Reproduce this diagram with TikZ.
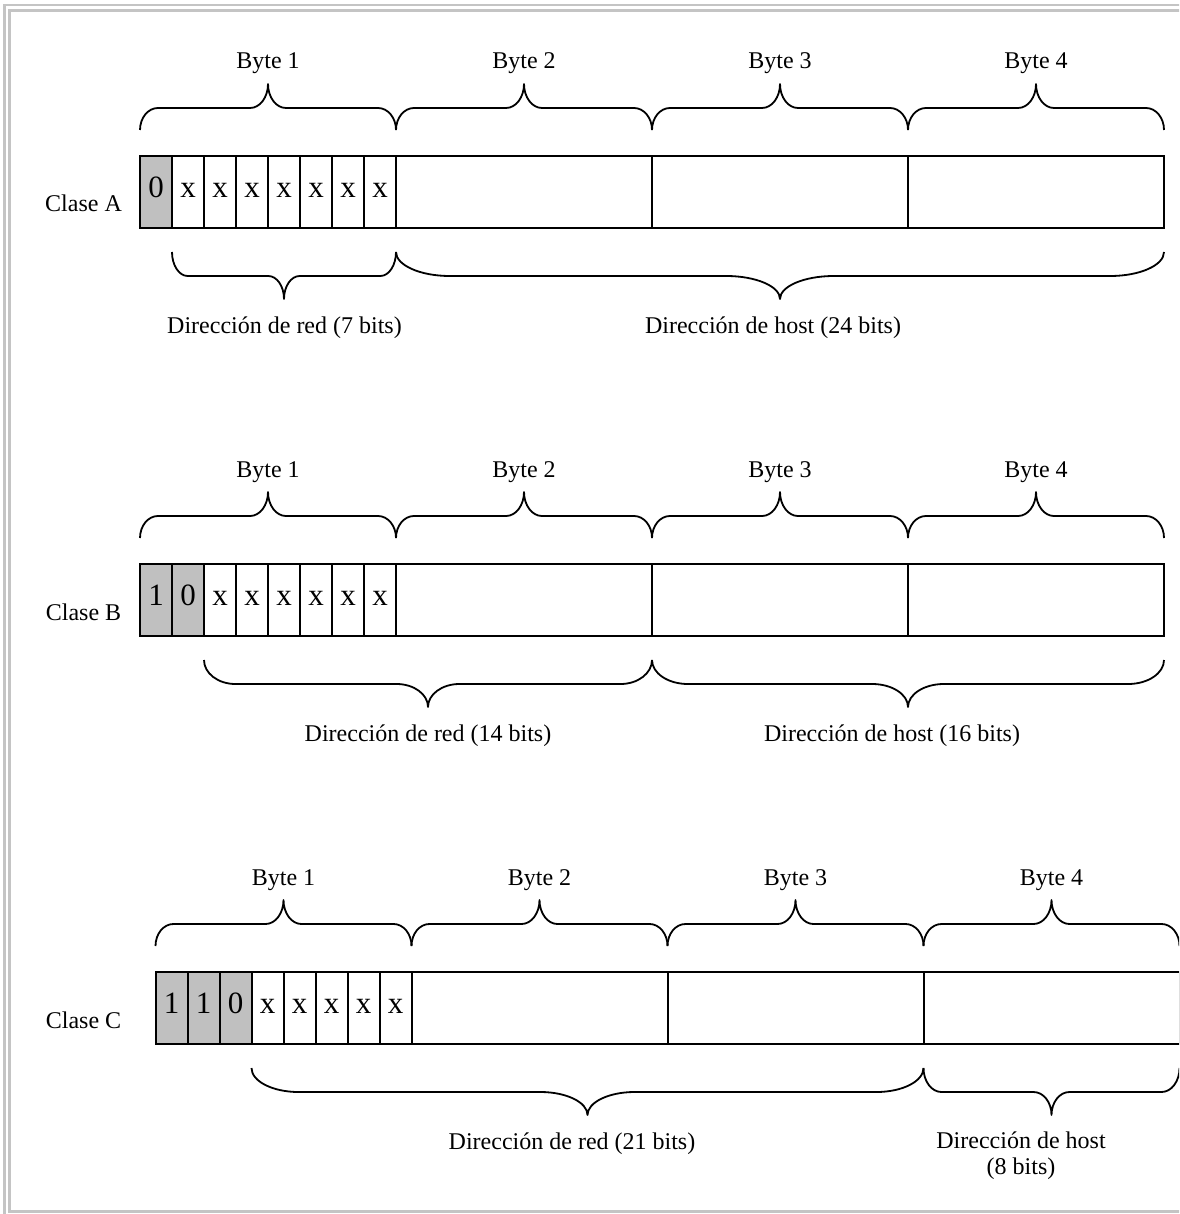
\documentclass[tikz,border=0pt]{standalone}
\usepackage{fontspec}
\setmainfont{Liberation Serif}
\definecolor{fixgray}{HTML}{C0C0C0}
\definecolor{framegray}{HTML}{C4C4C4}
\tikzset{
  lbl/.style={font=\fontsize{24}{28}\selectfont, inner sep=0pt, anchor=base},
  bit/.style={draw, line width=2pt, minimum width=32pt, minimum height=72pt,
    inner sep=0pt, outer sep=0pt, font=\fontsize{31}{31}\selectfont,
    text height=21pt, text depth=10pt},
  bytebox/.style={draw, line width=2pt, minimum width=256pt, minimum height=72pt,
    inner sep=0pt, outer sep=0pt},
  brace/.style={line width=1.8pt, line join=round},
  frame/.style={draw=framegray, line width=2.5pt}
}
\newcommand\bitrow[4]{%
  \foreach \t/\f [count=\i from 0] in {#4} {
    \ifnum\f=1 \def\bitfill{fixgray}\else\def\bitfill{white}\fi
    \node[bit, fill=\bitfill] (#1b\i) at ({#3+16+32*\i}, {#2+36}) {\t};
  }
  \foreach \j in {1,2,3} {
    \node[bytebox] (#1B\j) at ({#3+128+256*\j}, {#2+36}) {};
  }
}
\newcommand\curly[5]{%
  \pgfmathsetmacro\bkl{#1}\pgfmathsetmacro\bkR{#2}%
  \pgfmathsetmacro\bkm{(\bkl+\bkR)/2}\pgfmathsetmacro\bkr{0.07*(\bkR-\bkl)}%
  \pgfmathsetmacro\bkq{0.448*\bkr}%
  \pgfmathsetmacro\bvE{(#3)+0.552*((#4)-(#3))}%
  \pgfmathsetmacro\bvT{(#5)+0.552*((#4)-(#5))}%
  \draw[brace] (\bkl,#3) .. controls (\bkl,\bvE) and (\bkl+\bkq,#4) .. (\bkl+\bkr,#4)
    -- (\bkm-\bkr,#4) .. controls (\bkm-\bkq,#4) and (\bkm,\bvT) .. (\bkm,#5)
    .. controls (\bkm,\bvT) and (\bkm+\bkq,#4) .. (\bkm+\bkr,#4)
    -- (\bkR-\bkr,#4) .. controls (\bkR-\bkq,#4) and (\bkR,\bvE) .. (\bkR,#3);%
}
\begin{document}
\begin{tikzpicture}[x=1pt,y=-1pt]
\useasboundingbox (0,0) rectangle (1179,1214);
\clip (0,0) rectangle (1179,1214);
% frame
\draw[frame] (4.5,5) rectangle (1220,1240);
\draw[frame] (9.5,10.5) rectangle (1220,1211.5);

% ---------------- Clase A ----------------
\bitrow{A}{156}{140}{0/1,x/0,x/0,x/0,x/0,x/0,x/0,x/0}
\node[lbl] (clA) at (83.5,212) {Clase A};
\foreach \j in {0,1,2,3} {
  \curly{140+256*\j}{396+256*\j}{130}{108}{84}
  \pgfmathtruncatemacro\bn{\j+1}
  \node[lbl] (Abyte\j) at ({268+256*\j},69) {Byte \bn};
}
\curly{172}{396}{252}{276}{299}
\curly{396}{1164}{252}{276}{299}
\node[lbl] (Anet) at (284.5,333) {Dirección de red (7 bits)};
\node[lbl] (Ahost) at (773,333) {Dirección de host (24 bits)};

% ---------------- Clase B ----------------
\bitrow{B}{564}{140}{1/1,0/1,x/0,x/0,x/0,x/0,x/0,x/0}
\node[lbl] (clB) at (83.5,620) {Clase B};
\foreach \j in {0,1,2,3} {
  \curly{140+256*\j}{396+256*\j}{538}{516}{492}
  \pgfmathtruncatemacro\bn{\j+1}
  \node[lbl] (Bbyte\j) at ({268+256*\j},477) {Byte \bn};
}
\curly{204}{652}{660}{684}{707}
\curly{652}{1164}{660}{684}{707}
\node[lbl] (Bnet) at (428,741) {Dirección de red (14 bits)};
\node[lbl] (Bhost) at (892,741) {Dirección de host (16 bits)};

% ---------------- Clase C ----------------
\bitrow{C}{972}{155.5}{1/1,1/1,0/1,x/0,x/0,x/0,x/0,x/0}
\node[lbl] (clC) at (83.5,1028) {Clase C};
\foreach \j in {0,1,2,3} {
  \curly{155.5+256*\j}{411.5+256*\j}{946}{924}{900}
  \pgfmathtruncatemacro\bn{\j+1}
  \node[lbl] (Cbyte\j) at ({283.5+256*\j},885) {Byte \bn};
}
\curly{251.5}{923.5}{1068}{1092}{1115}
\curly{923.5}{1179.5}{1068}{1092}{1115}
\node[lbl] (Cnet) at (572,1149) {Dirección de red (21 bits)};
\node[lbl] (Chost) at (1021,1148) {Dirección de host};
\node[lbl] (Chost2) at (1021,1174) {(8 bits)};
\end{tikzpicture}
\end{document}
